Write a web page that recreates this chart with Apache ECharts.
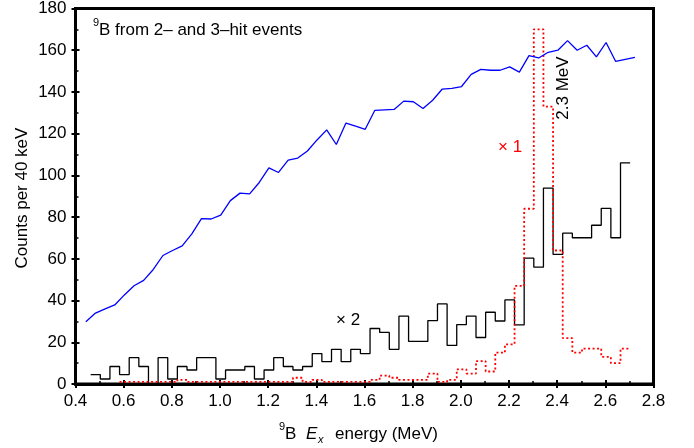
<!DOCTYPE html>
<html><head><meta charset="utf-8">
<script src="https://cdn.jsdelivr.net/npm/echarts@6/dist/echarts.min.js"></script>
<style>html,body{margin:0;padding:0;background:#fff}#c{width:694px;height:448px}</style>
</head><body><div id="c"></div>
<script>
// Blue line: one point every 40 keV
const blueStart = 0.443, blueStep = 0.04;
const blue = [29.8,34.0,36.0,37.9,42.7,47.1,49.7,54.9,61.6,64.0,66.2,72.0,79.3,79.1,81.0,87.9,91.5,91.1,96.6,103.6,101.4,107.3,108.3,111.7,117.0,121.8,114.8,125.1,123.6,122.1,131.2,131.4,131.6,135.6,135.3,132.1,136.0,141.4,141.7,142.6,148.4,150.8,150.4,150.4,152.0,149.5,157.4,156.3,159.0,160.0,164.6,160.0,162.4,156.8,163.7,154.6,155.6,156.6];
// Histograms: 40 keV bins
const binStart = 0.463, binWidth = 0.04;
const black = [4.5,2.4,8.4,4.5,12.6,8.4,0,12.6,2.4,8.4,6.7,12.6,12.6,2.4,6.7,6.7,8.4,2.4,6.7,12.6,8.4,6.7,8.4,14.6,10.7,16.6,10.7,16.6,14.6,26.6,24.7,16.6,32.5,20.4,20.4,30.4,38.4,18.5,28.5,32.5,22.3,34.4,30.2,40.3,28.3,60.3,56.0,93.9,62.1,72.3,70.1,70.1,76.1,84.2,70.1,106.0];
const red = [null,null,null,1,1,1,1,1,1,2,1,1,1,1,1,1,1,1,1,1,1,3,1,2,1,1,1,1,1,2,4,3,2,2,2,5,1,2,7,5,11,6,15,19,47,84,170,133,64,22,15,17,17,13,10,17];

const FONT = 'Liberation Sans, Arial, Helvetica, sans-serif';

function stepPoints(vals){
  const pts = [];
  vals.forEach((v,k)=>{
    if (v == null) return;
    const x0 = binStart + k*binWidth;
    pts.push([x0, v], [x0 + binWidth, v]);
  });
  return pts;
}
const bluePts = blue.map((v,i)=>[blueStart + i*blueStep, v]);

const chart = echarts.init(document.getElementById('c'), null, {renderer:'canvas'});
const xBase = {type:'value', min:0.4, max:2.8, interval:0.2, gridIndex:0, position:'bottom', splitLine:{show:false}};
const yBase = {type:'value', min:0, max:180, interval:20, gridIndex:0, position:'left', splitLine:{show:false}};
chart.setOption({
  animation:false,
  backgroundColor:'#fff',
  grid:{left:75.5, top:7, width:578, height:377, show:true, borderColor:'#000', borderWidth:3, backgroundColor:'rgba(0,0,0,0)'},
  xAxis:[
    Object.assign({}, xBase, {
      axisLine:{show:true, onZero:false, lineStyle:{color:'#000', width:3}},
      axisTick:{show:true, inside:false, length:4, lineStyle:{color:'#000', width:2}},
      axisLabel:{formatter:v=>v.toFixed(1), color:'#000', fontSize:17, fontFamily:FONT, margin:9}
    }),
    Object.assign({}, xBase, {
      axisLine:{show:false, onZero:false},
      axisTick:{show:true, inside:true, length:4, lineStyle:{color:'#000', width:2}},
      minorTick:{show:true, splitNumber:2, length:3, lineStyle:{color:'#000', width:1.5}},
      axisLabel:{show:false}
    })
  ],
  yAxis:[
    Object.assign({}, yBase, {
      axisLine:{show:true, onZero:false, lineStyle:{color:'#000', width:3}},
      axisTick:{show:true, inside:false, length:4, lineStyle:{color:'#000', width:2}},
      axisLabel:{color:'#000', fontSize:17, fontFamily:FONT, margin:9}
    }),
    Object.assign({}, yBase, {
      axisLine:{show:false, onZero:false},
      axisTick:{show:true, inside:true, length:4, lineStyle:{color:'#000', width:2}},
      minorTick:{show:true, splitNumber:2, length:3, lineStyle:{color:'#000', width:1.5}},
      axisLabel:{show:false}
    })
  ],
  series:[
    {type:'line', xAxisIndex:0, yAxisIndex:0, data:stepPoints(black), symbol:'none', lineStyle:{color:'#000', width:1.3}, z:3},
    {type:'line', xAxisIndex:0, yAxisIndex:0, data:stepPoints(red), symbol:'none', lineStyle:{color:'#ff0000', width:1.8, type:[2,2.5]}, z:4},
    {type:'line', xAxisIndex:0, yAxisIndex:0, data:bluePts, symbol:'none', lineStyle:{color:'#0000ff', width:1.3}, z:5}
  ],
  graphic:[
    {type:'text', z:10, x:93, y:23, style:{text:'9', font:'11px '+FONT, fill:'#000', textAlign:'left', textVerticalAlign:'middle'}},
    {type:'text', z:10, x:99, y:30, style:{text:'B from 2– and 3–hit events', font:'17px '+FONT, fill:'#000', textAlign:'left', textVerticalAlign:'middle'}},
    {type:'text', z:10, x:336, y:320, style:{text:'× 2', font:'17px '+FONT, fill:'#000', textAlign:'left', textVerticalAlign:'middle'}},
    {type:'text', z:10, x:498, y:147, style:{text:'× 1', font:'17px '+FONT, fill:'#ff0000', textAlign:'left', textVerticalAlign:'middle'}},
    {type:'text', z:10, x:563, y:88, rotation:Math.PI/2, style:{text:'2.3 MeV', font:'17px '+FONT, fill:'#000', textAlign:'center', textVerticalAlign:'middle'}},
    {type:'text', z:10, x:22, y:198, rotation:Math.PI/2, style:{text:'Counts per 40 keV', font:'17px '+FONT, fill:'#000', textAlign:'center', textVerticalAlign:'middle'}},
    {type:'text', z:10, x:279, y:427, style:{text:'9', font:'11px '+FONT, fill:'#000', textAlign:'left', textVerticalAlign:'middle'}},
    {type:'text', z:10, x:285, y:434, style:{text:'B', font:'17px '+FONT, fill:'#000', textAlign:'left', textVerticalAlign:'middle'}},
    {type:'text', z:10, x:306, y:434, style:{text:'E', font:'italic 17px '+FONT, fill:'#000', textAlign:'left', textVerticalAlign:'middle'}},
    {type:'text', z:10, x:318, y:440, style:{text:'x', font:'italic 11px '+FONT, fill:'#000', textAlign:'left', textVerticalAlign:'middle'}},
    {type:'text', z:10, x:335, y:434, style:{text:'energy (MeV)', font:'17px '+FONT, fill:'#000', textAlign:'left', textVerticalAlign:'middle'}}
  ]
});
</script></body></html>
